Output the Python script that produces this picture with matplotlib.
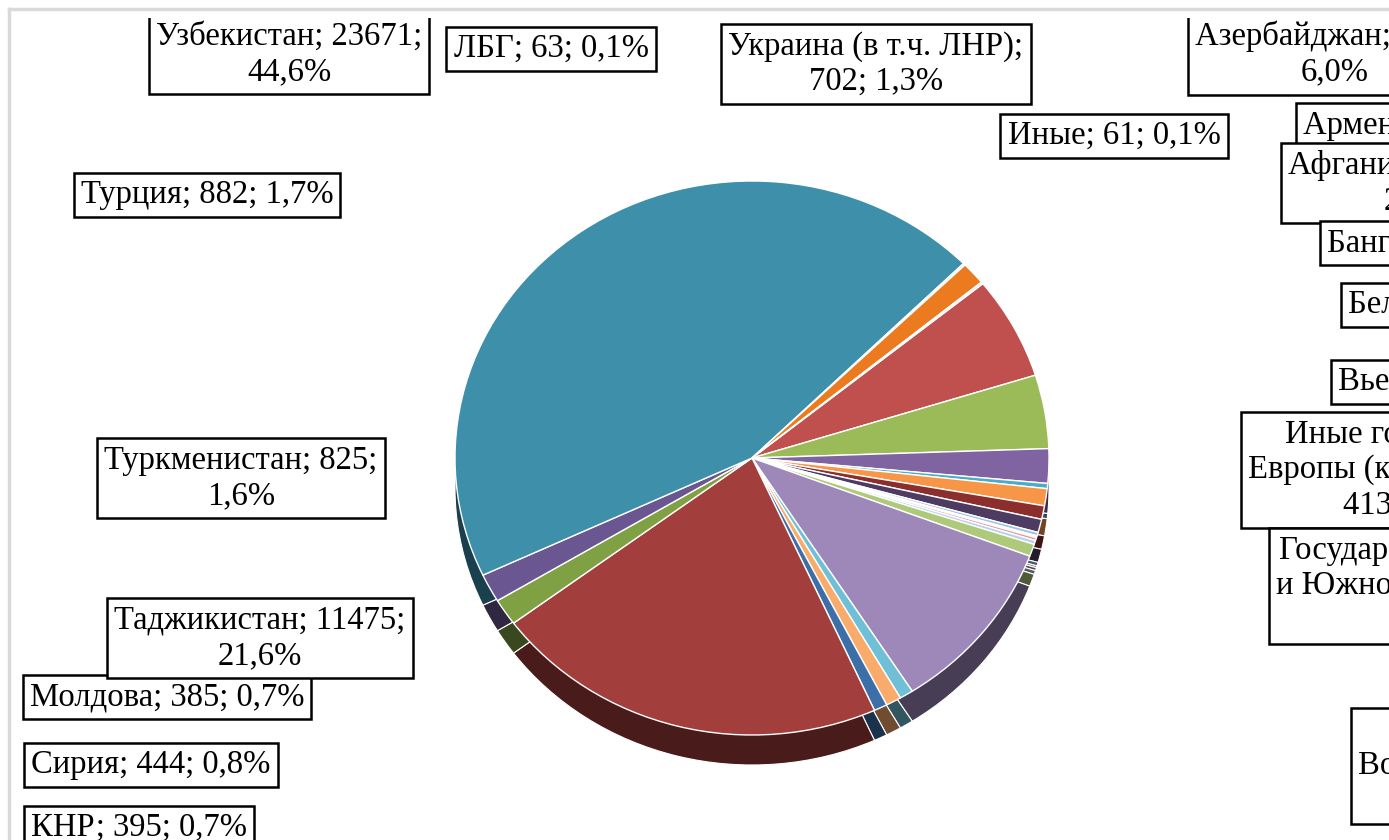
import matplotlib.pyplot as plt
import matplotlib.colors as mcolors
import numpy as np

plt.rcParams['font.family'] = ['Liberation Serif', 'DejaVu Serif']

# slices in clockwise order, starting from Azerbaijan
countries = ['Азербайджан', 'Армения', 'Афганистан', 'Бангладеш', 'Беларусь', 'Вьетнам',
             'Иные государства Европы', 'Государства Юго-Восточной и Южной Азии',
             'Иные государства Восточной и Центральной Азии', 'Грузия', 'Индия', 'Казахстан',
             'Кыргызстан', 'КНР', 'Сирия', 'Молдова', 'Таджикистан', 'Туркменистан', 'Турция',
             'Узбекистан', 'ЛБГ', 'Украина (в т.ч. ЛНР)', 'Иные']
counts = [3188, 2280, 1065, 160, 530, 420,
          413, 110,
          60, 90, 120, 380,
          5400, 395, 444, 385, 11475, 825, 882,
          23671, 63, 702, 61]
top_colors = ['#C0504D', '#9BBB59', '#8064A2', '#4BACC6', '#F79646', '#8C2F2C',
              '#4D3B62', '#9DC3E6', '#F2F2F2', '#E39A98', '#B7D3EC', '#AFC97A',
              '#9E88BA', '#6FC0D6', '#F9AB6B', '#3C6EA8', '#A23F3C', '#7FA043', '#6A5690',
              '#3D8FAA', '#E6F0F5', '#EC7A1E', '#DCE9F2']

# label text (with Excel's line breaks) and where the box sits: x, y, ha
label_text = {
    'Узбекистан': 'Узбекистан; {v};\n{p}',
    'ЛБГ': 'ЛБГ; {v}; {p}',
    'Украина (в т.ч. ЛНР)': 'Украина (в т.ч. ЛНР);\n{v}; {p}',
    'Иные': 'Иные; {v}; {p}',
    'Азербайджан': 'Азербайджан; {v};\n{p}',
    'Армения': 'Армения; {v};\n{p}',
    'Афганистан': 'Афганистан; {v};\n{p}',
    'Бангладеш': 'Бангладеш; {v}; {p}',
    'Беларусь': 'Беларусь; {v}; {p}',
    'Вьетнам': 'Вьетнам; {v}; {p}',
    'Иные государства Европы': 'Иные государства\nЕвропы (кроме ЕАЭС);\n{v}; {p}',
    'Государства Юго-Восточной и Южной Азии': 'Государства Юго-Восточной\nи Южной Азии (кроме КНР);\n{v}; {p}',
    'Иные государства Восточной и Центральной Азии': 'Иные государства\nВосточной и Центральной Азии;\n{v}; {p}',
    'Турция': 'Турция; {v}; {p}',
    'Туркменистан': 'Туркменистан; {v};\n{p}',
    'Таджикистан': 'Таджикистан; {v};\n{p}',
    'Молдова': 'Молдова; {v}; {p}',
    'Сирия': 'Сирия; {v}; {p}',
    'КНР': 'КНР; {v}; {p}',
}
label_pos = {
    'Узбекистан': (289, 54, 'center'),
    'ЛБГ': (551, 49, 'center'),
    'Украина (в т.ч. ЛНР)': (876, 64, 'center'),
    'Иные': (1114, 136, 'center'),
    'Азербайджан': (1195, 54, 'left'),
    'Армения': (1303, 143, 'left'),
    'Афганистан': (1288, 183, 'left'),
    'Бангладеш': (1327, 243, 'left'),
    'Беларусь': (1348, 305, 'left'),
    'Вьетнам': (1338, 382, 'left'),
    'Иные государства Европы': (1410, 470, 'center'),
    'Государства Юго-Восточной и Южной Азии': (1276, 586, 'left'),
    'Иные государства Восточной и Центральной Азии': (1358, 766, 'left'),
    'Турция': (207, 195, 'center'),
    'Туркменистан': (241, 478, 'center'),
    'Таджикистан': (260, 638, 'center'),
    'Молдова': (167, 697, 'center'),
    'Сирия': (151, 765, 'center'),
    'КНР': (139, 828, 'center'),
}

W, H = 1389, 840
fig = plt.figure(figsize=(W / 100, H / 100), dpi=100)

# pie: elliptical top face with a darker rim shifted down for the 3D look
cx, cy, rx, ry, depth = 752, 458, 297, 277, 30
d = depth / ry
pax = fig.add_axes([(cx - rx) / W, 1 - (cy + ry + depth) / H, 2 * rx / W, (2 * ry + depth) / H])
pax.set_zorder(1)
side_colors = [tuple(np.array(mcolors.to_rgb(c)) * 0.45) for c in top_colors]
pax.pie(counts, colors=side_colors, startangle=39, counterclock=False, center=(0, -d),
        wedgeprops=dict(edgecolor='white', linewidth=0.8))
pax.pie(counts, colors=top_colors, startangle=39, counterclock=False, center=(0, 0),
        wedgeprops=dict(edgecolor='white', linewidth=1.0))
pax.set_aspect('auto')
pax.set_xlim(-1, 1)
pax.set_ylim(-1 - d, 1)
pax.axis('off')

# labels (clipped to the chart area, like the cropped original)
top = 18
ax = fig.add_axes([10 / W, 0, 1 - 10 / W, 1 - top / H])
ax.set_zorder(2)
ax.patch.set_visible(False)
ax.set_xlim(10, W)
ax.set_ylim(H, top)
ax.axis('off')

total = sum(counts)
for name, v in zip(countries, counts):
    if name not in label_text:
        continue
    p = f'{v / total * 100:.1f}%'.replace('.', ',')
    x, y, ha = label_pos[name]
    ax.text(x, y, label_text[name].format(v=v, p=p), ha=ha, va='center',
            multialignment='center', fontsize=23.5, linespacing=1.2, clip_on=True,
            bbox=dict(boxstyle='square,pad=0.22', facecolor='white', edgecolor='black',
                      linewidth=1.8))

# chart area border (light grey)
fig.add_artist(plt.Line2D([9 / W, 1], [1 - 9 / H, 1 - 9 / H], color='#D9D9D9', lw=2.5))
fig.add_artist(plt.Line2D([9 / W, 9 / W], [0, 1 - 9 / H], color='#D9D9D9', lw=2.5))

fig.savefig('out.png', dpi=100)
